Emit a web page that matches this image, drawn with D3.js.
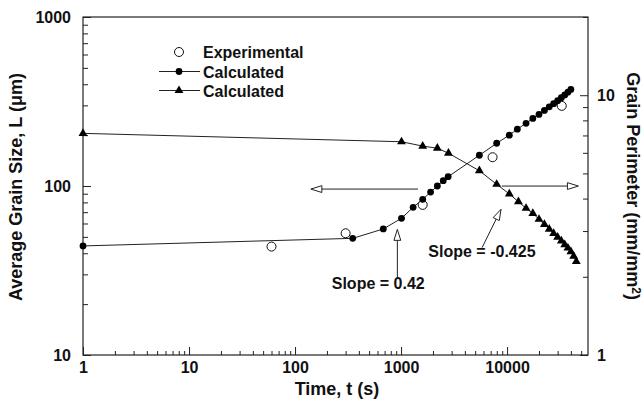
<!DOCTYPE html>
<html>
<head>
<meta charset="utf-8">
<script src="https://cdn.jsdelivr.net/npm/d3@7"></script>
<style>
  body { margin: 0; background: #fff; }
  svg text { font-family: "Liberation Sans", Arial, sans-serif; font-weight: bold; fill: #111; }
</style>
</head>
<body>
<div id="chart"></div>
<script>
// Experimental grain size (time s, L um)
const expTime = [60, 300, 1600, 7300, 32800];
const expSize = [43.8, 52.5, 77.3, 148, 298];

// Calculated grain size (left axis)
const calcTime = [1, 350, 680, 1010, 1300, 1600, 1900, 2200, 2500, 2780, 5480, 7980, 10500, 12500, 15100, 17500,
                  20000, 22500, 25000, 27500, 30000, 32500, 35000, 37500, 40000];
const calcSize = [44.2, 49, 55.7, 64.4, 74.8, 83.4, 92, 100, 107.5, 113.5, 152, 179, 200, 217, 235, 251,
                  265, 280, 294, 307, 320, 333, 346, 359, 373];

// Calculated grain perimeter (right axis)
const perTime = [1, 1010, 1600, 2200, 2800, 5480, 7980, 10500, 12800, 15100, 17500,
                 20000, 22500, 25000, 27500, 30000, 32500, 35000, 37500, 40000, 42500, 45000];
const perValue = [7.13, 6.62, 6.37, 6.25, 5.98, 5.12, 4.54, 4.17, 3.89, 3.67, 3.51,
                  3.33, 3.18, 3.05, 2.94, 2.84, 2.75, 2.66, 2.58, 2.5, 2.4, 2.29];

const xMajor = [1, 10, 100, 1000, 10000];
const yLeftMajor = [10, 100, 1000];
const yRightMajor = [1, 10];

const legendLabels = ["Experimental", "Calculated", "Calculated"];

// arrows in data space: axis = which y scale
const arrows = [
  { axis: "L", t1: 1446, v1: 95.9, t2: 141, v2: 95.9 },
  { axis: "P", t1: 8910, v1: 4.47, t2: 47100, v2: 4.47 },
  { axis: "L", t1: 923, v1: 28.5, t2: 923, v2: 55.4 },
  { axis: "P", t1: 5810, v1: 2.59, t2: 8780, v2: 3.64 }
];
const notes = [
  { axis: "L", t: 222, v: 24.5, text: "Slope = 0.42" },
  { axis: "P", t: 1810, v: 2.39, text: "Slope = -0.425" }
];

const W = 644, H = 410;
const svg = d3.select("#chart").append("svg").attr("width", W).attr("height", H);

const x = d3.scaleLog().domain([1, 58000]).range([83, 588]);
const yL = d3.scaleLog().domain([10, 1000]).range([355, 17]);
const yR = d3.scaleLog().domain([1, 20]).range([355, 17]);
const yOf = a => a === "L" ? yL : yR;

// minor tick values
const minors = (lo, hi) => {
  const out = [];
  for (let d = lo; d < hi; d *= 10) for (let k = 2; k <= 9; k++) if (d * k <= hi) out.push(d * k);
  return out;
};

const axisColor = "#222";

// frame
svg.append("rect").attr("x", 83).attr("y", 17).attr("width", 505).attr("height", 338)
  .attr("fill", "none").attr("stroke", axisColor).attr("stroke-width", 1.2);

function styleAxis(g) {
  g.select(".domain").remove();
  g.selectAll(".tick line").attr("stroke", axisColor);
  g.selectAll(".tick text").style("font-size", "16px").attr("fill", "#111")
    .style("font-family", "'Liberation Sans', Arial, sans-serif").style("font-weight", "bold");
}

// x axis
svg.append("g").attr("transform", "translate(0,355)")
  .call(d3.axisBottom(x).tickValues(minors(1, 58000)).tickSizeInner(-4).tickSizeOuter(0).tickFormat(""))
  .call(styleAxis);
svg.append("g").attr("transform", "translate(0,355)")
  .call(d3.axisBottom(x).tickValues(xMajor).tickSizeInner(-8).tickSizeOuter(0).tickPadding(7).tickFormat(d3.format("d")))
  .call(styleAxis);

// left axis
svg.append("g").attr("transform", "translate(83,0)")
  .call(d3.axisLeft(yL).tickValues(minors(10, 1000)).tickSizeInner(-5).tickSizeOuter(0).tickFormat(""))
  .call(styleAxis);
svg.append("g").attr("transform", "translate(83,0)")
  .call(d3.axisLeft(yL).tickValues(yLeftMajor).tickSizeInner(-8).tickSizeOuter(0).tickPadding(12).tickFormat(d3.format("d")))
  .call(styleAxis);

// right axis
svg.append("g").attr("transform", "translate(588,0)")
  .call(d3.axisRight(yR).tickValues(minors(1, 20)).tickSizeInner(-5).tickSizeOuter(0).tickFormat(""))
  .call(styleAxis);
svg.append("g").attr("transform", "translate(588,0)")
  .call(d3.axisRight(yR).tickValues(yRightMajor).tickSizeInner(-8).tickSizeOuter(0).tickPadding(9).tickFormat(d3.format("d")))
  .call(styleAxis);

// axis titles
svg.append("text").attr("x", 337).attr("y", 395).attr("text-anchor", "middle")
  .style("font-size", "18px").text("Time, t (s)");
svg.append("text").attr("transform", "translate(22,187) rotate(-90)").attr("text-anchor", "middle")
  .style("font-size", "18px").text("Average Grain Size, L (\u03bcm)");
const rt = svg.append("text").attr("transform", "translate(627,186) rotate(90)").attr("text-anchor", "middle")
  .style("font-size", "18px");
rt.append("tspan").text("Grain Perimeter (mm/mm");
rt.append("tspan").attr("dy", -5).style("font-size", "12px").text("2");
rt.append("tspan").attr("dy", 5).text(")");

// series data
const calc = calcTime.map((t, i) => ({ t, v: calcSize[i] }));
const per = perTime.map((t, i) => ({ t, v: perValue[i] }));
const exp = expTime.map((t, i) => ({ t, v: expSize[i] }));

const lineL = d3.line().x(d => x(d.t)).y(d => yL(d.v));
const lineR = d3.line().x(d => x(d.t)).y(d => yR(d.v));

svg.append("path").datum(calc).attr("d", lineL).attr("fill", "none").attr("stroke", "#222").attr("stroke-width", 1);
svg.append("path").datum(per).attr("d", lineR).attr("fill", "none").attr("stroke", "#222").attr("stroke-width", 1);

const tri = d3.symbol().type(d3.symbolTriangle).size(34);

svg.append("g").selectAll("circle").data(exp).join("circle")
  .attr("cx", d => x(d.t)).attr("cy", d => yL(d.v)).attr("r", 4.5)
  .attr("fill", "#fff").attr("stroke", "#111").attr("stroke-width", 1);
svg.append("g").selectAll("circle").data(calc).join("circle")
  .attr("cx", d => x(d.t)).attr("cy", d => yL(d.v)).attr("r", 3.4).attr("fill", "#000");
svg.append("g").selectAll("path").data(per).join("path")
  .attr("d", tri).attr("transform", d => `translate(${x(d.t)},${yR(d.v)})`).attr("fill", "#000");

// arrows with open heads
arrows.forEach(a => {
  const y = yOf(a.axis);
  const x1 = x(a.t1), y1 = y(a.v1), x2 = x(a.t2), y2 = y(a.v2);
  const ang = Math.atan2(y2 - y1, x2 - x1);
  const len = 11, half = 3.4;
  const bx = x2 - len * Math.cos(ang), by = y2 - len * Math.sin(ang);
  svg.append("line").attr("x1", x1).attr("y1", y1).attr("x2", bx).attr("y2", by)
    .attr("stroke", "#222").attr("stroke-width", 1);
  const pts = [
    [x2, y2],
    [bx + half * Math.sin(ang), by - half * Math.cos(ang)],
    [bx - half * Math.sin(ang), by + half * Math.cos(ang)]
  ];
  svg.append("polygon").attr("points", pts.map(p => p.join(",")).join(" "))
    .attr("fill", "#fff").attr("stroke", "#222").attr("stroke-width", 1);
});

notes.forEach(n => {
  svg.append("text").attr("x", x(n.t)).attr("y", yOf(n.axis)(n.v))
    .style("font-size", "16px").text(n.text);
});

// legend
const lg = svg.append("g");
const rowsY = [52, 71.5, 90.5];
lg.append("circle").attr("cx", 179).attr("cy", rowsY[0]).attr("r", 4.5)
  .attr("fill", "#fff").attr("stroke", "#111");
lg.append("line").attr("x1", 159).attr("x2", 200).attr("y1", rowsY[1]).attr("y2", rowsY[1]).attr("stroke", "#222");
lg.append("circle").attr("cx", 179).attr("cy", rowsY[1]).attr("r", 3.4).attr("fill", "#000");
lg.append("line").attr("x1", 159).attr("x2", 200).attr("y1", rowsY[2]).attr("y2", rowsY[2]).attr("stroke", "#222");
lg.append("path").attr("d", tri).attr("transform", `translate(179,${rowsY[2]})`).attr("fill", "#000");
lg.selectAll("text").data(legendLabels).join("text")
  .attr("x", 203).attr("y", (d, i) => rowsY[i] + 6)
  .style("font-size", "16px").text(d => d);
</script>
</body>
</html>
